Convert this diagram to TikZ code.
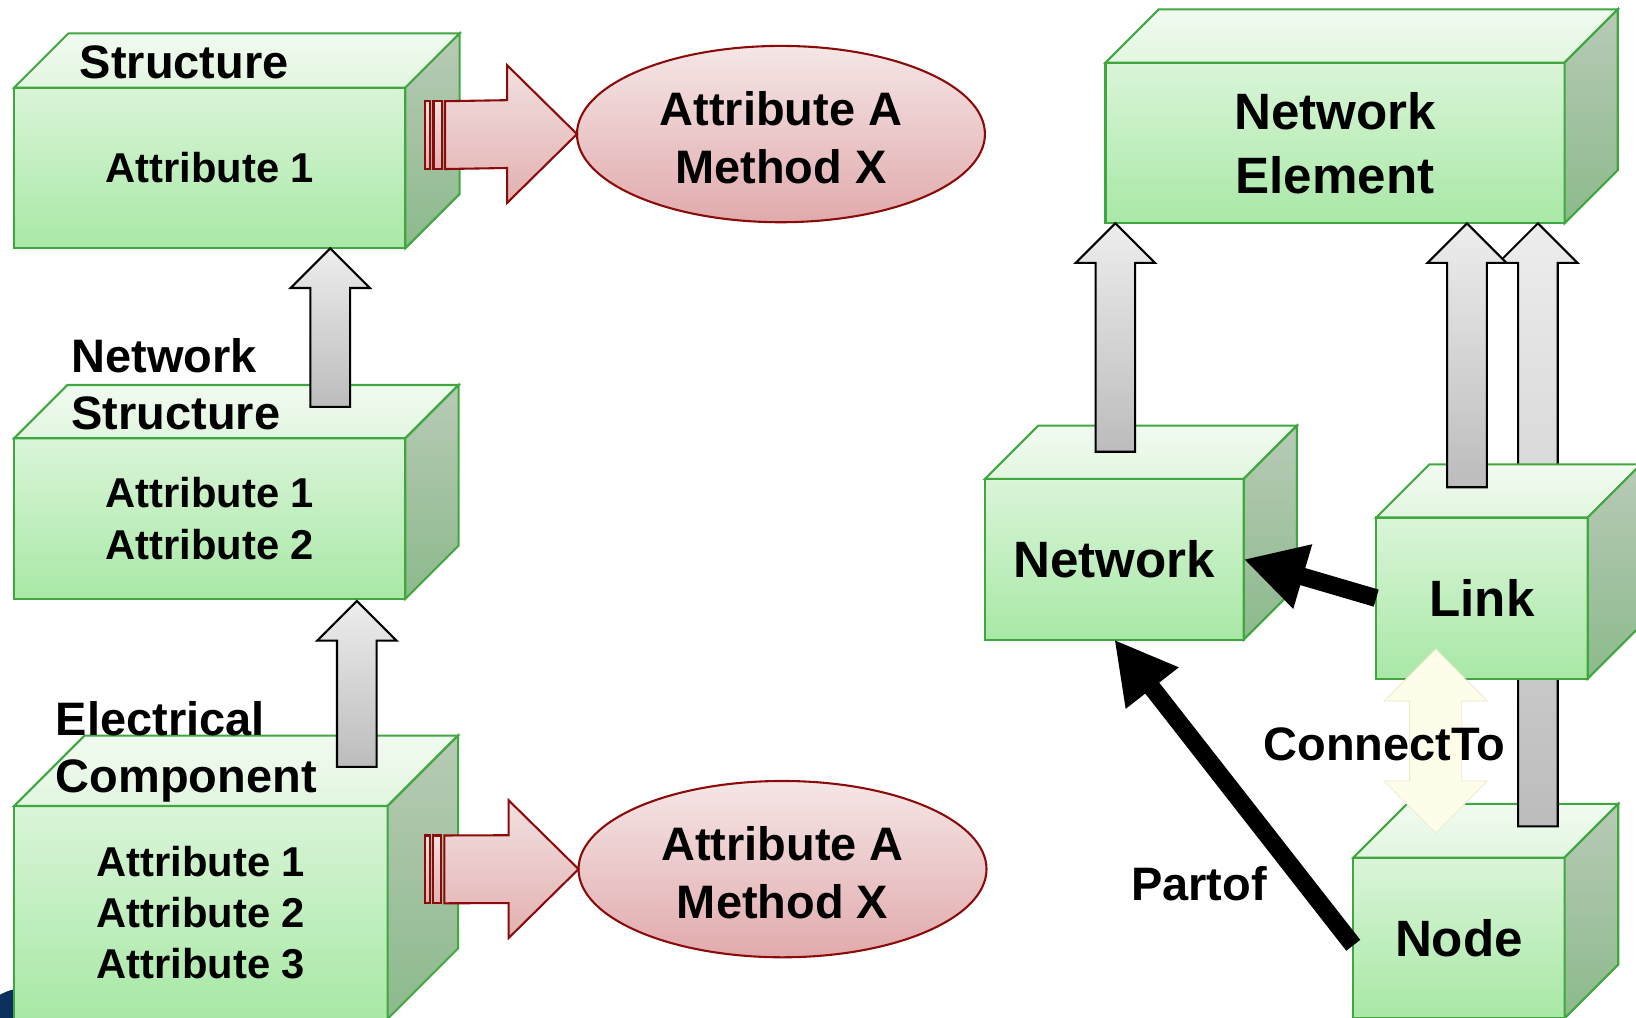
\documentclass[tikz,border=0pt]{standalone}
\usepackage{fontspec}
\setmainfont{Liberation Sans}
\usetikzlibrary{calc,arrows.meta,shapes.geometric}
\definecolor{ftop}{RGB}{218,245,216}
\definecolor{fbot}{RGB}{168,232,166}
\definecolor{ttop}{RGB}{241,251,240}
\definecolor{tbot}{RGB}{226,246,224}
\definecolor{rtop}{RGB}{184,202,182}
\definecolor{rbot}{RGB}{140,186,140}
\definecolor{gborder}{RGB}{64,166,64}
\definecolor{redb}{RGB}{139,10,10}
\definecolor{rarrtop}{RGB}{243,224,224}
\definecolor{rarrbot}{RGB}{226,176,176}
\definecolor{elltop}{RGB}{245,230,230}
\definecolor{ellbot}{RGB}{225,170,172}
\definecolor{gatop}{RGB}{237,237,237}
\definecolor{gabot}{RGB}{188,188,188}
\definecolor{ivoryfill}{RGB}{253,253,234}
\definecolor{ivoryline}{RGB}{236,236,208}
\definecolor{navyc}{RGB}{12,48,94}
\pgfdeclarelayer{shadowlayer}
\pgfsetlayers{shadowlayer,main}
\newcommand\fa{\fontsize{40}{49}\selectfont\bfseries}
\newcommand\fb{\fontsize{45}{55}\selectfont\bfseries}
\newcommand\fc{\fontsize{49}{61}\selectfont\bfseries}
\tikzset{
  frontface/.style={draw=gborder, line width=2pt, top color=ftop, bottom color=fbot,
    inner sep=0pt, outer sep=0pt, anchor=north west, align=center},
  topface/.style={draw=gborder, line width=2pt, top color=ttop, bottom color=tbot, line join=miter},
  sideface/.style={draw=gborder, line width=2pt, top color=rtop, bottom color=rbot, line join=miter},
  boxshadow/.style={fill=black, opacity=0.16},
  greyarr/.style={draw=black, line width=2pt, top color=gatop, bottom color=gabot, line join=miter},
  redarr/.style={draw=redb, line width=2pt, top color=rarrtop, bottom color=rarrbot, line join=miter},
  ellnode/.style={ellipse, draw=redb, line width=2pt, top color=elltop, bottom color=ellbot,
    minimum width=391, minimum height=169, inner sep=0pt, outer sep=0pt},
  lbl/.style={inner sep=0pt, outer sep=0pt, font=\fb},
  blk/.style={line width=17pt, -{Triangle[length=59pt,width=60pt]}},
  conn/.style={fill=ivoryfill, draw=ivoryline, line width=0.8pt, line join=miter}
}
\newcommand\cubefaces[2]{%
  \begin{pgfonlayer}{shadowlayer}
  \fill[boxshadow, shift={(1.5,-3.5)}] (#1.north west) -- ++(#2,#2) -- ($(#1.north east)+(#2,#2)$)
    -- ($(#1.south east)+(#2,#2)$) -- (#1.south east) -- (#1.south west) -- cycle;
  \end{pgfonlayer}
  \draw[topface] (#1.north west) -- ++(#2,#2) -- ($(#1.north east)+(#2,#2)$) -- (#1.north east) -- cycle;
  \draw[sideface] (#1.north east) -- ++(#2,#2) -- ($(#1.south east)+(#2,#2)$) -- (#1.south east) -- cycle;}
\newcommand\greyup[2]{%
  \draw[greyarr] ($(#2)+(-19,0)$) -- ($(#1)+(-19,-38)$) -- ($(#1)+(-38,-38)$) -- (#1)
    -- ($(#1)+(38,-38)$) -- ($(#1)+(19,-38)$) -- ($(#2)+(19,0)$) -- cycle;}
\newcommand\redright[2]{%
  \draw[redarr] ($(#1)+(19,32.5)$) -- ($(#2)+(-67,32.5)$) -- ($(#2)+(-67,66)$) -- (#2)
    -- ($(#2)+(-67,-66)$) -- ($(#2)+(-67,-32.5)$) -- ($(#1)+(19,-32.5)$) -- cycle;
  \draw[redarr] ($(#1)+(0,32.5)$) rectangle ($(#1)+(5,-32.5)$);
  \draw[redarr] ($(#1)+(8,32.5)$) rectangle ($(#1)+(16,-32.5)$);}
\begin{document}
\begin{tikzpicture}[x=1pt,y=1pt]
\useasboundingbox (0,0) rectangle (1568,-975);
\begin{pgfonlayer}{shadowlayer}
\fill[navyc] (24,-995) circle (48);
\end{pgfonlayer}

% ---------- left column ----------
\node[frontface, minimum width=375, minimum height=154, font=\fa] (s) at (13.5,-84) {Attribute 1};
\cubefaces{s}{52}
\node[frontface, minimum width=375, minimum height=154, font=\fa] (ns) at (13.5,-420) {Attribute 1\\Attribute 2};
\cubefaces{ns}{51}
\node[frontface, minimum width=358, minimum height=204, font=\fa] (es) at (13.5,-772.5) {Attribute 1\\Attribute 2\\Attribute 3};
\cubefaces{es}{67.5}

\coordinate (a1t) at ($(s.south west)+(303,0)$);
\coordinate (a1b) at ($(ns.north west)+(303,30)$);
\greyup{a1t}{a1b}
\coordinate (a2t) at ($(ns.south west)+(328.5,-2)$);
\coordinate (a2b) at ($(es.north west)+(328.5,37.5)$);
\greyup{a2t}{a2b}

\node[lbl, anchor=base] (sl) at (176.5,-75) {Structure};
\node[lbl, anchor=north west, align=left] (nsl) at (68.5,-324.5) {Network\\Structure};
\node[lbl, anchor=north west, align=left] (esl) at (53.5,-672) {Electrical\\Component};

\node[ellnode] (e1) at (748.5,-128.5) {};
\node[ellnode] (e2) at (750,-833) {};
\node[lbl, align=center] (e1t) at ([yshift=-3.5pt]e1.center) {Attribute A\\Method X};
\node[lbl, align=center] (e2t) at ([yshift=-3.5pt]e2.center) {Attribute A\\Method X};
\coordinate (r1) at ($(s.north east)+(19,-45.5)$);
\redright{r1}{e1.west}
\coordinate (r2) at ($(es.north east)+(35.4,-60.75)$);
\redright{r2}{e2.west}

% ---------- right column ----------
\node[frontface, minimum width=440, minimum height=154, font=\fc] (ne) at (1059.5,-60) {Network\\Element};
\cubefaces{ne}{51}
\node[frontface, minimum width=248, minimum height=154, font=\fc] (net) at (944,-459) {Network};
\cubefaces{net}{51}
\node[frontface, minimum width=202.5, minimum height=154, font=\fc] (nd) at (1297,-822) {Node};
\cubefaces{nd}{51.5}

\coordinate (a5t) at ($(ne.south west)+(414.5,0)$);
\coordinate (a5b) at ($(nd.north west)+(177,30)$);
\greyup{a5t}{a5b}

\node[frontface, minimum width=202.7, minimum height=154.5, font=\fc] (lk) at (1319,-496) {Link};
\cubefaces{lk}{51}

\coordinate (a3t) at ($(ne.south west)+(9.5,0)$);
\coordinate (a3b) at ($(net.north west)+(125,26)$);
\greyup{a3t}{a3b}
\coordinate (a4t) at ($(ne.south west)+(346.5,0)$);
\coordinate (a4b) at ($(lk.north west)+(87,29)$);
\greyup{a4t}{a4b}

\coordinate (ct1) at ($(lk.south west)+(57,28.5)$);
\coordinate (ct2) at ($(nd.north west)+(79,23.5)$);
\draw[conn] (ct1) -- ++(49.5,-50) -- ++(-24.5,0) -- ($(ct2)+(25,50)$) -- ++(24.5,0) -- (ct2)
  -- ++(-49.5,50) -- ++(24.5,0) -- ($(ct1)+(-25,-50)$) -- ++(-24.5,0) -- cycle;

\draw[blk] (lk.west) -- (net.east);
\coordinate (pt) at ($(nd.north west)+(0,-84)$);
\draw[blk] (pt) -- (net.south);

\node[lbl, anchor=base] (ctl) at (1327,-729) {ConnectTo};
\node[lbl, anchor=base] (pol) at (1149,-863) {Partof};
\end{tikzpicture}
\end{document}
